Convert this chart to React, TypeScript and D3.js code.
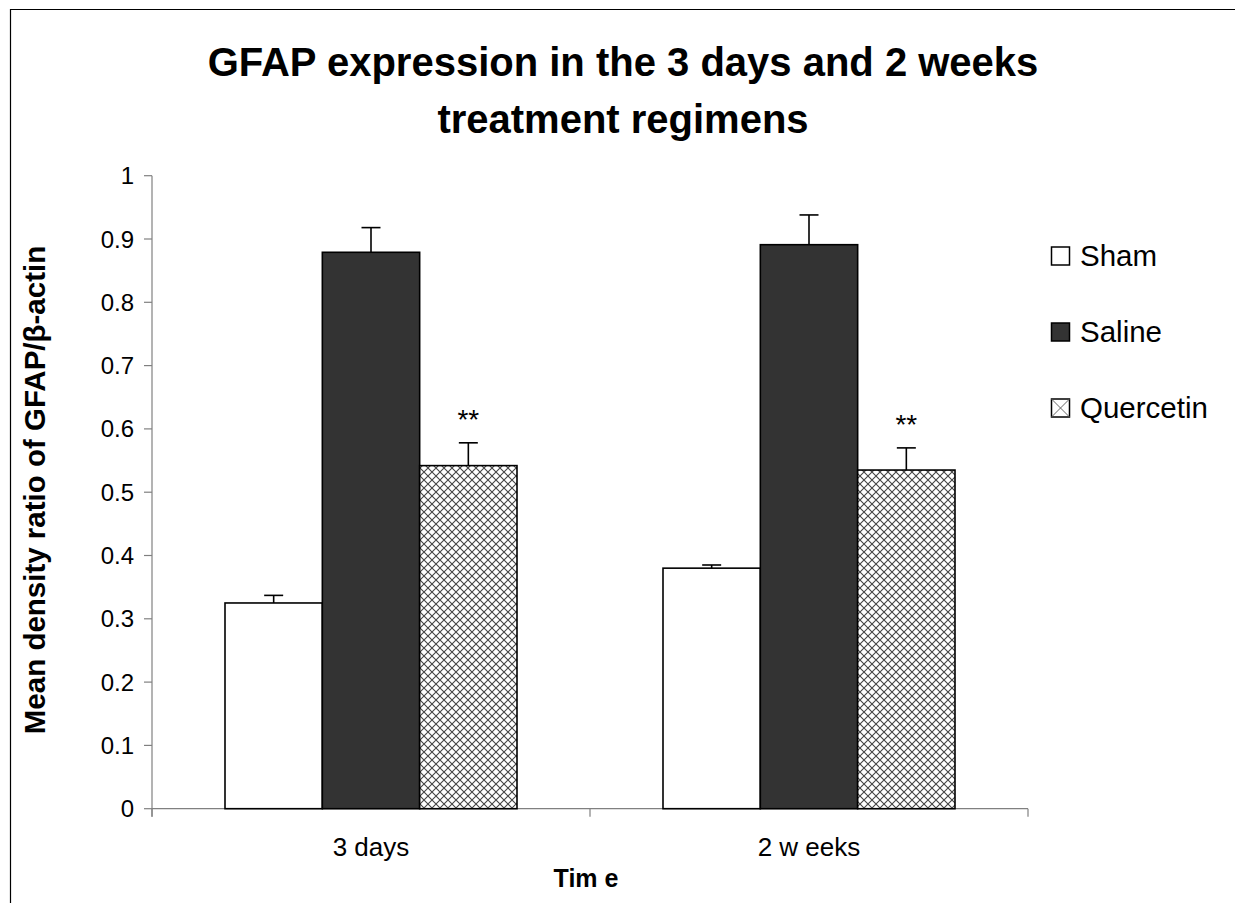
import React from "react";
import * as d3 from "d3";

const categories = ["3 days", "2 w eeks"];
const seriesNames = ["Sham", "Saline", "Quercetin"];
const shamValues = [0.325, 0.38];
const shamErrors = [0.012, 0.005];
const salineValues = [0.879, 0.891];
const salineErrors = [0.039, 0.047];
const quercetinValues = [0.542, 0.535];
const quercetinErrors = [0.036, 0.035];
const significance = ["", "", "**"];
const yTicks = [0, 0.1, 0.2, 0.3, 0.4, 0.5, 0.6, 0.7, 0.8, 0.9, 1];
const yTickLabels = ["0", "0.1", "0.2", "0.3", "0.4", "0.5", "0.6", "0.7", "0.8", "0.9", "1"];

const FONT = "'Liberation Sans', Arial, sans-serif";

export default function App() {
  const W = 1235, H = 903;
  const x0 = 152, x1 = 1028, yTop = 175.7, yBot = 808.7;
  const y = d3.scaleLinear().domain([0, 1]).range([yBot, yTop]);
  const xOuter = d3.scaleBand<string>().domain(categories).range([x0, x1]).padding(0);
  const gw = xOuter.bandwidth();
  const xInner = d3.scaleBand<string>().domain(seriesNames).range([gw / 6, gw * 5 / 6]).padding(0);

  const seriesData = [
    { name: "Sham", values: shamValues, errors: shamErrors, fill: "#ffffff" },
    { name: "Saline", values: salineValues, errors: salineErrors, fill: "#333333" },
    { name: "Quercetin", values: quercetinValues, errors: quercetinErrors, fill: "url(#cross)" },
  ];

  const catTicks = [x0, ...categories.map((c) => (xOuter(c) as number) + gw)];

  return (
    <svg width={W} height={H} style={{ position: "absolute", left: 0, top: 0, background: "#fff" }} fontFamily={FONT}>
      <defs>
        <pattern id="cross" patternUnits="userSpaceOnUse" width={8} height={8}>
          <rect width={8} height={8} fill="#fff" />
          <path d="M0,0 L8,8 M8,0 L0,8" stroke="#444" strokeWidth={1.1} />
        </pattern>
      </defs>
      <rect x={0} y={0} width={W} height={H} fill="#fff" />
      <path d={`M10.5,${H + 5} L10.5,9.5 L${W + 5},9.5`} fill="none" stroke="#000" strokeWidth={1.2} />

      <text x={623} y={76} textAnchor="middle" fontSize={40} fontWeight="bold">GFAP expression  in the 3 days and 2 weeks</text>
      <text x={623} y={133} textAnchor="middle" fontSize={40} fontWeight="bold">treatment regimens</text>

      {/* y axis */}
      <line x1={x0} x2={x0} y1={yTop} y2={yBot + 8} stroke="#808080" strokeWidth={1.2} />
      {yTicks.map((t, i) => (
        <g key={t}>
          <line x1={x0 - 8} x2={x0} y1={y(t)} y2={y(t)} stroke="#808080" strokeWidth={1.2} />
          <text x={134} y={y(t) + 8.5} textAnchor="end" fontSize={24}>{yTickLabels[i]}</text>
        </g>
      ))}

      {/* x axis */}
      <line x1={x0} x2={x1} y1={yBot} y2={yBot} stroke="#808080" strokeWidth={1.2} />
      {catTicks.map((t) => (
        <line key={t} x1={t} x2={t} y1={yBot} y2={yBot + 8} stroke="#808080" strokeWidth={1.2} />
      ))}
      {categories.map((c) => (
        <text key={c} x={(xOuter(c) as number) + gw / 2} y={856} textAnchor="middle" fontSize={26}>{c}</text>
      ))}
      <text x={586} y={887} textAnchor="middle" fontSize={25} fontWeight="bold">Tim e</text>

      <text transform={`translate(45,490) rotate(-90)`} textAnchor="middle" fontSize={29.5} fontWeight="bold">Mean density ratio of GFAP/β-actin</text>

      {/* bars */}
      {seriesData.map((s, si) => (
        <g key={s.name}>
          {categories.map((c, ci) => {
            const bx = (xOuter(c) as number) + (xInner(s.name) as number);
            const bw = xInner.bandwidth();
            const top = y(s.values[ci]);
            const eTop = y(s.values[ci] + s.errors[ci]);
            const cx = bx + bw / 2;
            return (
              <g key={c}>
                <line x1={cx} x2={cx} y1={top} y2={eTop} stroke="#000" strokeWidth={1.6} />
                <line x1={cx - 9.5} x2={cx + 9.5} y1={eTop} y2={eTop} stroke="#000" strokeWidth={1.6} />
                <rect x={bx} y={top} width={bw} height={yBot - top} fill={s.fill} stroke="#000" strokeWidth={1.6} />
                {significance[si] && (
                  <text x={cx} y={eTop - 14} textAnchor="middle" fontSize={28}>{significance[si]}</text>
                )}
              </g>
            );
          })}
        </g>
      ))}

      {/* legend */}
      {seriesData.map((s, i) => {
        const ly = 256 + i * 76;
        return (
          <g key={s.name}>
            <rect x={1051.5} y={ly - 9} width={18} height={18} fill={s.name === "Quercetin" ? "#fff" : s.fill} stroke="#000" strokeWidth={1.5} />
            {s.name === "Quercetin" && (
              <path d={`M1051.5,${ly - 9} L1069.5,${ly + 9} M1069.5,${ly - 9} L1051.5,${ly + 9}`} stroke="#666" strokeWidth={1} />
            )}
            <text x={1080} y={ly + 10} fontSize={29.5}>{s.name}</text>
          </g>
        );
      })}
    </svg>
  );
}
